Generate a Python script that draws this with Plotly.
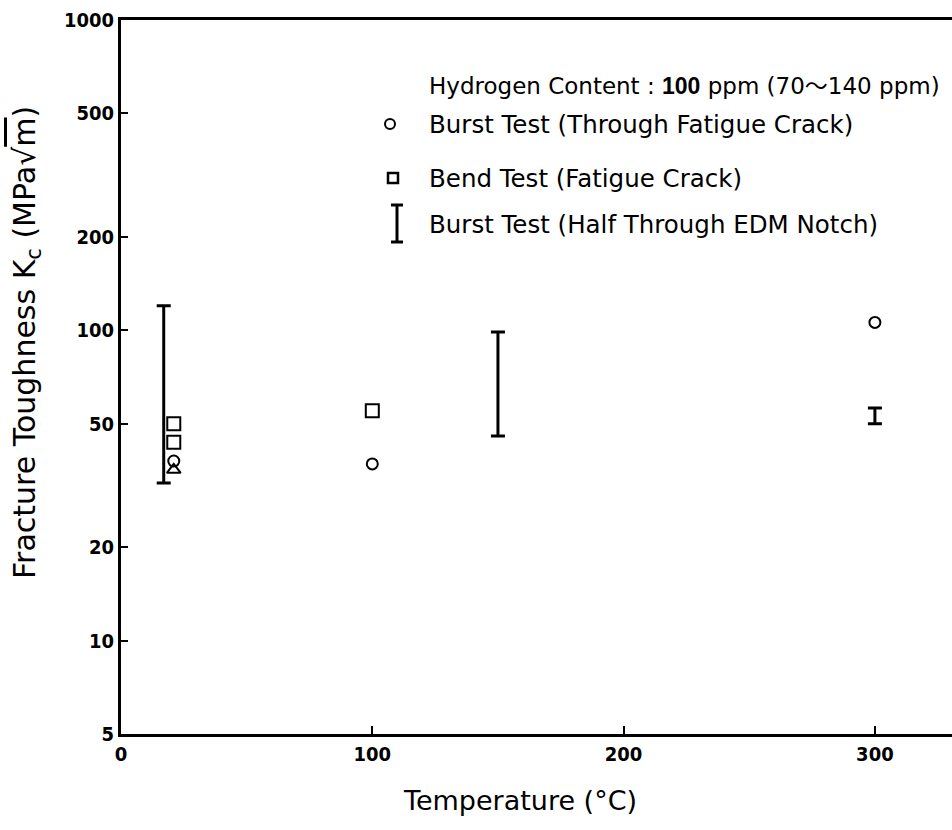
import plotly.graph_objects as go

# ---- data ----
burst_x = [21, 100, 300]
burst_y = [37.9, 37.1, 106]
bend_x = [21, 21, 100]
bend_y = [50, 43.6, 55]
tri_x = [21]
tri_y = [35.5]
edm_x = [17, 150, 300]
edm_low = [32.2, 45.6, 50]
edm_high = [120, 98.7, 56.2]

x_ticks = [0, 100, 200, 300]
x_ticktext = ["0", "100", "200", "300"]
y_ticks = [5, 10, 20, 50, 100, 200, 500, 1000]
y_ticktext = ["5", "10", "20", "50", "100", "200", "500", "1000"]

W, H = 952, 830
L, R, T, B = 121, 0, 20, 96
PW, PH = W - L - R, H - T - B


def px_x(p):
    return (p - L) / PW


def px_y(p):
    return (H - B - p) / PH


TEXT_FONT = "DejaVu Sans, Noto Sans CJK JP"
NUM_FONT = "DejaVu Sans Condensed, Liberation Sans"

fig = go.Figure()

fig.add_trace(go.Scatter(
    x=edm_x, y=edm_high, mode="markers",
    marker=dict(size=1, color="rgba(0,0,0,0)"),
    error_y=dict(type="data", symmetric=False,
                 array=[0] * len(edm_x),
                 arrayminus=[h - l for h, l in zip(edm_high, edm_low)],
                 color="black", thickness=3, width=7),
    showlegend=False, hoverinfo="skip"))

fig.add_trace(go.Scatter(
    x=burst_x, y=burst_y, mode="markers",
    marker=dict(symbol="circle-open", size=11, color="black", line=dict(width=2)),
    showlegend=False))

fig.add_trace(go.Scatter(
    x=bend_x, y=bend_y, mode="markers",
    marker=dict(symbol="square-open", size=13, color="black", line=dict(width=2)),
    showlegend=False))

fig.add_trace(go.Scatter(
    x=tri_x, y=tri_y, mode="markers",
    marker=dict(symbol="triangle-up-open", size=12, color="black", line=dict(width=2)),
    showlegend=False))

# ---- manual legend ----
ann = []
ann.append(dict(x=px_x(427), y=px_y(86), xref="paper", yref="paper",
                text="Hydrogen Content : <span style='font-family:Liberation Sans;font-weight:bold'>100</span> ppm (70〜140 ppm)",
                showarrow=False, xanchor="left", yanchor="middle",
                font=dict(family=TEXT_FONT, size=23, color="black")))
legend_rows = [
    (124, "Burst Test (Through Fatigue Crack)"),
    (178, "Bend Test (Fatigue Crack)"),
    (224, "Burst Test (Half Through EDM Notch)"),
]
for yy, txt in legend_rows:
    ann.append(dict(x=px_x(427), y=px_y(yy), xref="paper", yref="paper",
                    text=txt, showarrow=False, xanchor="left", yanchor="middle",
                    font=dict(family=TEXT_FONT, size=24.5, color="black")))

# axis titles
ann.append(dict(x=px_x(520), y=px_y(800), xref="paper", yref="paper",
                text="Temperature (°C)", showarrow=False,
                xanchor="center", yanchor="middle",
                font=dict(family=TEXT_FONT, size=27, color="black")))
ann.append(dict(x=px_x(27), y=px_y(343), xref="paper", yref="paper",
                text="Fracture Toughness K<sub>c</sub> (MPa√<span style='text-decoration:overline'>m</span>)",
                showarrow=False, textangle=-90,
                xanchor="center", yanchor="middle",
                font=dict(family=TEXT_FONT, size=30, color="black")))

shapes = []
# circle symbol
shapes.append(dict(type="circle", xref="paper", yref="paper",
                   x0=px_x(385), x1=px_x(395), y0=px_y(119), y1=px_y(129),
                   line=dict(color="black", width=2)))
# square symbol
shapes.append(dict(type="rect", xref="paper", yref="paper",
                   x0=px_x(388), x1=px_x(398), y0=px_y(173), y1=px_y(183),
                   line=dict(color="black", width=2.5)))
# I-bar symbol
shapes.append(dict(type="line", xref="paper", yref="paper",
                   x0=px_x(397), x1=px_x(397), y0=px_y(205), y1=px_y(242),
                   line=dict(color="black", width=3)))
for yy in (205, 242):
    shapes.append(dict(type="line", xref="paper", yref="paper",
                       x0=px_x(391), x1=px_x(403), y0=px_y(yy), y1=px_y(yy),
                       line=dict(color="black", width=3)))

fig.update_layout(
    width=W, height=H,
    margin=dict(l=L, r=R, t=T, b=B, autoexpand=False),
    paper_bgcolor="white", plot_bgcolor="white",
    showlegend=False,
    annotations=ann, shapes=shapes,
    xaxis=dict(range=[0, PW / 2.513], showgrid=False, zeroline=False,
               showline=True, linecolor="black", linewidth=3, mirror=True,
               ticks="inside", ticklen=8, tickwidth=2, tickcolor="black",
               tickvals=x_ticks, ticktext=x_ticktext,
               tickfont=dict(family=NUM_FONT, size=20, color="black", weight="bold")),
    yaxis=dict(type="log", range=[0.69897, 3], showgrid=False, zeroline=False,
               showline=True, linecolor="black", linewidth=3, mirror=False,
               ticks="inside", ticklen=7, tickwidth=2, tickcolor="black",
               tickvals=y_ticks, ticktext=y_ticktext,
               tickfont=dict(family=NUM_FONT, size=20, color="black", weight="bold")),
)

fig.write_html("out.html")
